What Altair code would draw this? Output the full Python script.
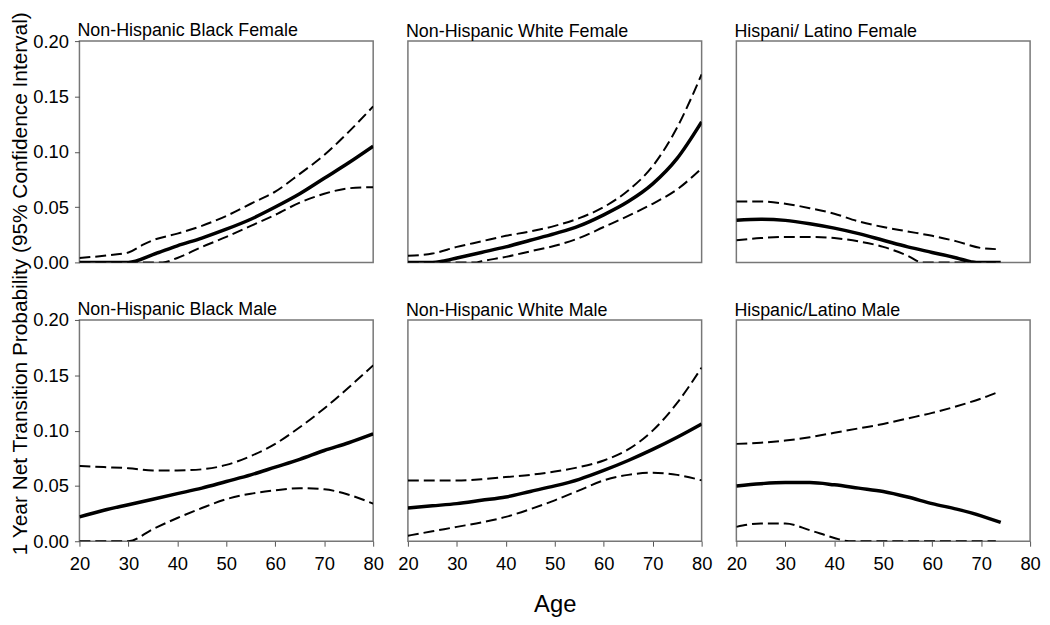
import altair as alt
import pandas as pd

# ---------------- data ----------------
age_grid = [20, 25, 30, 35, 40, 45, 50, 55, 60, 65, 70, 75, 80]

# Non-Hispanic Black Female
nbf_est = [0, 0, 0, 0.007, 0.015, 0.022, 0.030, 0.039, 0.050, 0.062, 0.076, 0.090, 0.105]
nbf_hi_age = [20, 25, 30, 33, 35, 40, 45, 50, 55, 60, 65, 70, 75, 80]
nbf_hi = [0.004, 0.006, 0.009, 0.016, 0.020, 0.026, 0.033, 0.042, 0.053, 0.064, 0.080, 0.097, 0.118, 0.141]
nbf_lo_age = [20, 30, 37, 40, 45, 50, 55, 60, 65, 70, 75, 80]
nbf_lo = [0, 0, 0, 0.004, 0.014, 0.023, 0.033, 0.043, 0.054, 0.062, 0.067, 0.068]

# Non-Hispanic White Female
nwf_est_age = [20, 25, 27, 30, 35, 40, 45, 50, 55, 60, 65, 70, 75, 80]
nwf_est = [0, 0, 0.001, 0.004, 0.009, 0.014, 0.020, 0.026, 0.033, 0.043, 0.055, 0.071, 0.094, 0.127]
nwf_hi = [0.006, 0.008, 0.014, 0.019, 0.024, 0.028, 0.033, 0.040, 0.050, 0.065, 0.087, 0.122, 0.170]
nwf_lo_age = [20, 30, 34, 35, 40, 45, 50, 55, 60, 65, 70, 75, 80]
nwf_lo = [0, 0, 0, 0.001, 0.005, 0.010, 0.015, 0.022, 0.032, 0.042, 0.053, 0.066, 0.085]

# Hispanic / Latino Female
hf_est_age = [20, 25, 30, 35, 40, 45, 50, 55, 60, 65, 68, 69, 74]
hf_est = [0.038, 0.039, 0.038, 0.035, 0.031, 0.026, 0.020, 0.014, 0.009, 0.004, 0.0005, 0, 0]
hf_hi_age = [20, 25, 30, 35, 40, 45, 50, 55, 60, 65, 70, 73]
hf_hi = [0.055, 0.055, 0.053, 0.049, 0.044, 0.037, 0.032, 0.028, 0.024, 0.019, 0.013, 0.012]
hf_lo_age = [20, 25, 30, 35, 40, 45, 50, 55, 58, 73]
hf_lo = [0.020, 0.022, 0.023, 0.023, 0.022, 0.019, 0.014, 0.006, 0, 0]

# Non-Hispanic Black Male
nbm_est = [0.022, 0.028, 0.033, 0.038, 0.043, 0.048, 0.054, 0.060, 0.067, 0.074, 0.082, 0.089, 0.097]
nbm_hi = [0.068, 0.067, 0.066, 0.064, 0.064, 0.065, 0.069, 0.077, 0.088, 0.103, 0.120, 0.139, 0.159]
nbm_lo = [0, 0, 0, 0.011, 0.021, 0.030, 0.038, 0.043, 0.046, 0.048, 0.047, 0.042, 0.034]

# Non-Hispanic White Male
nwm_est = [0.030, 0.032, 0.034, 0.037, 0.040, 0.045, 0.050, 0.056, 0.064, 0.073, 0.083, 0.094, 0.106]
nwm_hi = [0.055, 0.055, 0.055, 0.056, 0.058, 0.060, 0.063, 0.067, 0.073, 0.083, 0.100, 0.125, 0.157]
nwm_lo = [0.005, 0.009, 0.013, 0.017, 0.022, 0.029, 0.037, 0.046, 0.055, 0.060, 0.062, 0.060, 0.055]

# Hispanic / Latino Male
hm_est_age = [20, 25, 30, 35, 40, 45, 50, 55, 60, 65, 70, 74]
hm_est = [0.050, 0.052, 0.053, 0.053, 0.051, 0.048, 0.045, 0.040, 0.034, 0.029, 0.023, 0.017]
hm_hi_age = [20, 25, 30, 35, 40, 45, 50, 55, 60, 65, 70, 73]
hm_hi = [0.088, 0.089, 0.091, 0.094, 0.098, 0.102, 0.106, 0.111, 0.116, 0.122, 0.129, 0.134]
hm_lo_age = [20, 25, 30, 35, 40, 43, 73]
hm_lo = [0.013, 0.016, 0.016, 0.010, 0.003, 0, 0]

titles = [
    "Non-Hispanic Black Female", "Non-Hispanic White Female", "Hispani/ Latino Female",
    "Non-Hispanic Black Male", "Non-Hispanic White Male", "Hispanic/Latino Male",
]
x_ticks = [20, 30, 40, 50, 60, 70, 80]
y_ticks = [0.00, 0.05, 0.10, 0.15, 0.20]
y_title = "1 Year Net Transition Probability (95% Confidence Interval)"

FONT = "Liberation Sans"


def frame(est_age, est, lo_age, lo, hi_age, hi):
    rows = []
    for a, v in zip(est_age, est):
        rows.append({"age": a, "value": v, "series": "est"})
    for a, v in zip(lo_age, lo):
        rows.append({"age": a, "value": v, "series": "lo"})
    for a, v in zip(hi_age, hi):
        rows.append({"age": a, "value": v, "series": "hi"})
    return pd.DataFrame(rows)


panels_data = [
    frame(age_grid, nbf_est, nbf_lo_age, nbf_lo, nbf_hi_age, nbf_hi),
    frame(nwf_est_age, nwf_est, nwf_lo_age, nwf_lo, age_grid, nwf_hi),
    frame(hf_est_age, hf_est, hf_lo_age, hf_lo, hf_hi_age, hf_hi),
    frame(age_grid, nbm_est, age_grid, nbm_lo, age_grid, nbm_hi),
    frame(age_grid, nwm_est, age_grid, nwm_lo, age_grid, nwm_hi),
    frame(hm_est_age, hm_est, hm_lo_age, hm_lo, hm_hi_age, hm_hi),
]

W, H = 296, 223


def panel(i):
    df = panels_data[i]
    row, col = divmod(i, 3)
    if row == 1:
        if col == 1:
            x_axis = alt.Axis(values=x_ticks, title="Age", titleFont=FONT, titleFontSize=24,
                              titleFontWeight="normal", titleColor="black",
                              titleBaseline="alphabetic", titleY=71,
                              labelPadding=8)
        else:
            x_axis = alt.Axis(values=x_ticks, title=None, labelPadding=8)
    else:
        x_axis = None
    if col == 0:
        y_axis = alt.Axis(values=y_ticks, format=".2f", title=None, labelPadding=6)
    else:
        y_axis = None

    base = alt.Chart(df).encode(
        x=alt.X("age:Q", scale=alt.Scale(domain=[20, 80], nice=False, zero=False), axis=x_axis),
        y=alt.Y("value:Q", scale=alt.Scale(domain=[0, 0.2], nice=False), axis=y_axis),
        detail="series:N",
    )
    dashed = base.transform_filter(alt.datum.series != "est").mark_line(
        color="black", strokeWidth=2, strokeDash=[11, 5], interpolate="monotone", clip=True
    )
    solid = base.transform_filter(alt.datum.series == "est").mark_line(
        color="black", strokeWidth=3.5, interpolate="monotone", clip=True
    )
    off = -22 if col == 0 else -14
    return alt.layer(dashed, solid).properties(
        width=W, height=H,
        title=alt.TitleParams(titles[i], anchor="start", frame="group", font=FONT,
                              fontSize=18, fontWeight="normal", color="black",
                              baseline="alphabetic", offset=off, dx=-2),
    )


chart = alt.concat(
    *[panel(i) for i in range(6)],
    columns=3,
    spacing=alt.RowColnumber(row=58, column=35),
    bounds="flush",
).properties(
    title=alt.TitleParams(y_title, orient="left", anchor="middle", font=FONT, fontSize=21,
                          fontWeight="normal", color="black", offset=1, dx=36),
    padding={"left": 2, "top": 1, "right": 0, "bottom": 0},
).configure_view(
    stroke="#777777", strokeWidth=1.5,
).configure_axis(
    grid=False, domain=False, ticks=True, tickColor="#555555", tickSize=5, tickWidth=1,
    labelFont=FONT, labelFontSize=18.5, labelColor="black", labelFlush=False,
    labelOverlap=False,
)

chart.save("out.html", embed_options={"renderer": "svg", "actions": False})
